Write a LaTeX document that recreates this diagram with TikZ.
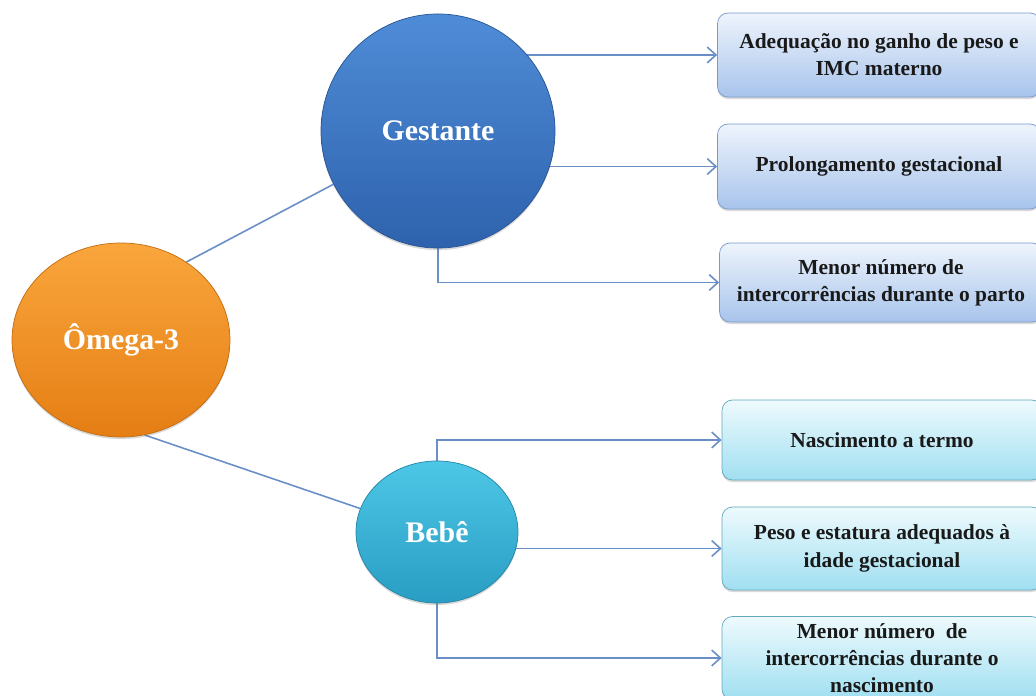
\documentclass[tikz,border=0pt]{standalone}
\usepackage{fontspec}
\setmainfont{Liberation Serif}
\usetikzlibrary{shapes.geometric,arrows.meta,backgrounds,shadows}

\definecolor{linkblue}{HTML}{6A8EC6}
\definecolor{omegatop}{HTML}{F9A63C}
\definecolor{omegabot}{HTML}{E57E14}
\definecolor{gesttop}{HTML}{4F8CD7}
\definecolor{gestbot}{HTML}{2E62AD}
\definecolor{bebetop}{HTML}{4DC7E6}
\definecolor{bebebot}{HTML}{299DC3}
\definecolor{gboxtop}{HTML}{EEF4FC}
\definecolor{gboxbot}{HTML}{A8C4EC}
\definecolor{bboxtop}{HTML}{EEFAFD}
\definecolor{bboxbot}{HTML}{A0DFF1}

\begin{document}
\begin{tikzpicture}[
  conn/.style={draw=linkblue, line width=0.9pt},
  arr/.style={conn, -{Straight Barb[length=5pt,width=9pt]}},
  hub/.style={ellipse, inner sep=0pt, text=white,
    font=\fontsize{17}{20}\selectfont\bfseries,
    drop shadow={opacity=0.3, shadow xshift=0pt, shadow yshift=-1.2pt}},
  outbox/.style={rectangle, rounded corners=6pt, inner sep=2pt, align=center,
    minimum width=6.46cm, text=black!90,
    font=\fontsize{12.2}{15.5}\selectfont\bfseries,
    drop shadow={opacity=0.3, shadow xshift=0pt, shadow yshift=-1.2pt}},
  gbox/.style={outbox, draw=linkblue!90, top color=gboxtop, bottom color=gboxbot},
  bbox/.style={outbox, draw=bebetop!60!gray, top color=bboxtop, bottom color=bboxbot},
]
  % 1036 x 696 px, 50 px = 1 cm
  \useasboundingbox (0,0) rectangle (20.72,13.92);
  \clip (0,0) rectangle (20.72,13.92);

  % Central and branch ellipses
  \node[hub, minimum width=4.36cm, minimum height=3.88cm, draw=omegabot!85!black,
        top color=omegatop, bottom color=omegabot] (omega) at (2.42,7.12) {Ômega-3};
  \node[hub, minimum width=4.68cm, minimum height=4.68cm, draw=gestbot!85!black,
        top color=gesttop, bottom color=gestbot] (gestante) at (8.76,11.30) {Gestante};
  \node[hub, minimum width=3.24cm, minimum height=2.84cm, draw=bebebot!85!black,
        top color=bebetop, bottom color=bebebot] (bebe) at (8.74,3.28) {Bebê};

  % Outcomes: gestante
  \node[gbox, minimum height=1.68cm] (g1) at (17.58,12.82) {Adequação no ganho de peso e\\IMC materno};
  \node[gbox, minimum height=1.70cm] (g2) at (17.58,10.59) {Prolongamento gestacional};
  \node[gbox, minimum height=1.58cm] (g3) at (17.62,8.27) {Menor número de\\intercorrências durante o parto};

  % Outcomes: bebe
  \node[bbox, minimum height=1.60cm, minimum width=6.40cm] (b1) at (17.64,5.12) {Nascimento a termo};
  \node[bbox, minimum height=1.66cm, minimum width=6.40cm] (b2) at (17.64,2.95) {Peso e estatura adequados à\\idade gestacional};
  \node[bbox, minimum height=1.66cm, minimum width=6.40cm] (b3) at (17.64,0.76) {Menor número\ \ de\\intercorrências durante o\\nascimento};

  % Connectors (behind the ellipses)
  \begin{scope}[on background layer]
    \draw[conn] (omega.50) -- (gestante.207);
    \draw[conn] (omega.-76) -- (bebe.163);

    \draw[arr] (gestante.center |- g1.west) -- (g1.west);
    \draw[arr] (gestante.center |- g2.west) -- (g2.west);
    \draw[arr] (gestante.south) |- (g3.west);

    \draw[arr] (bebe.north) |- (b1.west);
    \draw[arr] (bebe.center |- b2.west) -- (b2.west);
    \draw[arr] (bebe.south) |- (b3.west);
  \end{scope}
\end{tikzpicture}
\end{document}
